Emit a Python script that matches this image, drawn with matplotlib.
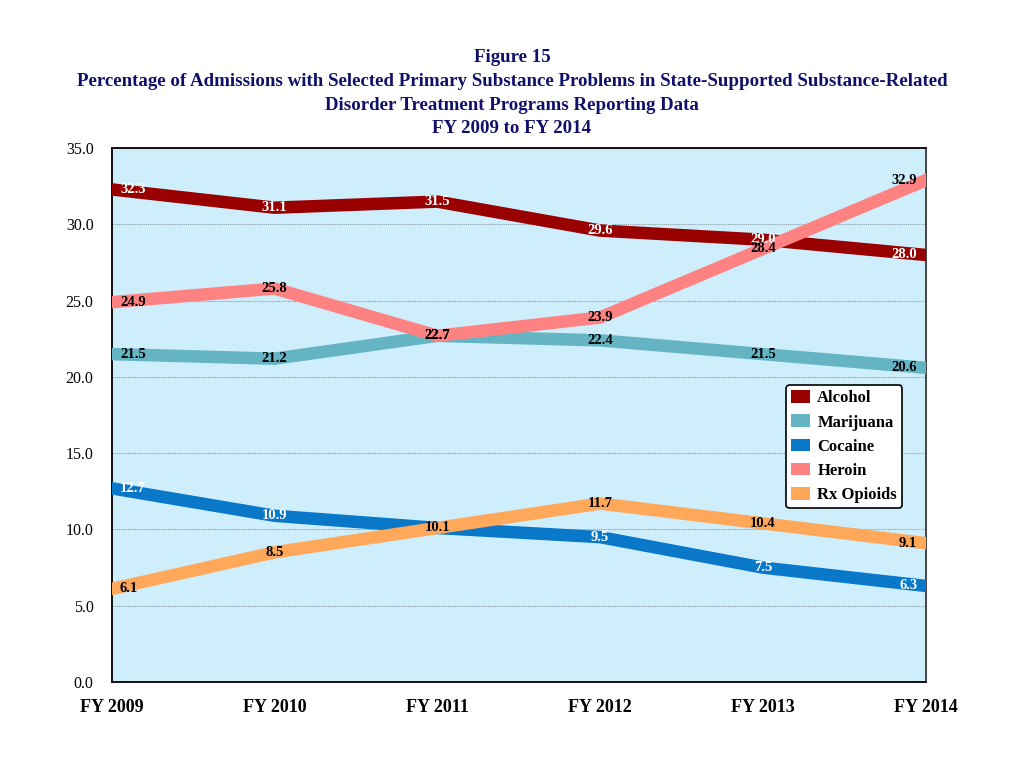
import matplotlib.pyplot as plt
from matplotlib.patches import Patch

plt.rcParams['font.family'] = ['Liberation Serif', 'DejaVu Serif']

years = ["FY 2009", "FY 2010", "FY 2011", "FY 2012", "FY 2013", "FY 2014"]
alcohol = [32.3, 31.1, 31.5, 29.6, 29.0, 28.0]
marijuana = [21.5, 21.2, 22.7, 22.4, 21.5, 20.6]
cocaine = [12.7, 10.9, 10.1, 9.5, 7.5, 6.3]
heroin = [24.9, 25.8, 22.7, 23.9, 28.4, 32.9]
rx_opioids = [6.1, 8.5, 10.1, 11.7, 10.4, 9.1]

series = [
    ("Alcohol", alcohol, "#990000", "white"),
    ("Marijuana", marijuana, "#64B4C4", "black"),
    ("Cocaine", cocaine, "#0A78C8", "white"),
    ("Heroin", heroin, "#FF8282", "black"),
    ("Rx Opioids", rx_opioids, "#FFA85A", "black"),
]

fig = plt.figure(figsize=(10.24, 7.68), dpi=100)
ax = fig.add_axes([0.109, 0.112, 0.795, 0.695])
ax.set_facecolor("#CFEEFC")

x = list(range(len(years)))
for name, vals, col, tcol in series:
    ax.plot(x, vals, color=col, lw=9, solid_joinstyle="miter", zorder=3)

# data labels: inside the axes at the two ends, centred elsewhere
for name, vals, col, tcol in series:
    for i, v in enumerate(vals):
        if i == 0:
            off, ha = 6, "left"
        elif i == len(vals) - 1:
            off, ha = -6, "right"
        else:
            off, ha = 0, "center"
        ax.annotate(f"{v:.1f}", (i, v), xytext=(off, 0), textcoords="offset points",
                    ha=ha, va="center", fontsize=10.5, fontweight="bold", color=tcol, zorder=5)

ax.set_xlim(0, 5)
ax.set_ylim(0, 35)
ax.set_yticks([0, 5, 10, 15, 20, 25, 30, 35])
ax.set_yticklabels([f"{t:.1f}" for t in [0, 5, 10, 15, 20, 25, 30, 35]], fontsize=11.5)
ax.set_xticks(x)
ax.set_xticklabels(years, fontsize=13, fontweight="bold")
ax.tick_params(axis="both", length=0)
ax.tick_params(axis="y", pad=13)
ax.tick_params(axis="x", pad=12)
ax.grid(axis="y", color="#8A9AA0", lw=0.8, ls=(0, (1, 1)), zorder=1)
ax.set_axisbelow(True)
for s in ax.spines.values():
    s.set_color("#111111")
    s.set_linewidth(1.4)
ax.spines["right"].set_color("#444444")

handles = [Patch(facecolor=col, edgecolor="none", label=name) for name, vals, col, tcol in series]
leg = ax.legend(handles=handles, loc="upper left", bbox_to_anchor=(0.829, 0.556),
                prop={"size": 12, "weight": "bold"}, frameon=True, fancybox=True,
                edgecolor="black", facecolor="white", framealpha=1,
                handlelength=1.1, handleheight=0.8, handletextpad=0.45,
                labelspacing=0.48, borderpad=0.3, borderaxespad=0)
leg.get_frame().set_linewidth(1.2)
leg.set_zorder(6)

title = ("Figure 15\n"
         "Percentage of Admissions with Selected Primary Substance Problems in State-Supported Substance-Related\n"
         "Disorder Treatment Programs Reporting Data\n"
         "FY 2009 to FY 2014")
fig.text(0.5, 0.936, title, ha="center", va="top", fontsize=13.6, fontweight="bold",
         color="#10106A", linespacing=1.52)

fig.savefig("out.png", dpi=100)
